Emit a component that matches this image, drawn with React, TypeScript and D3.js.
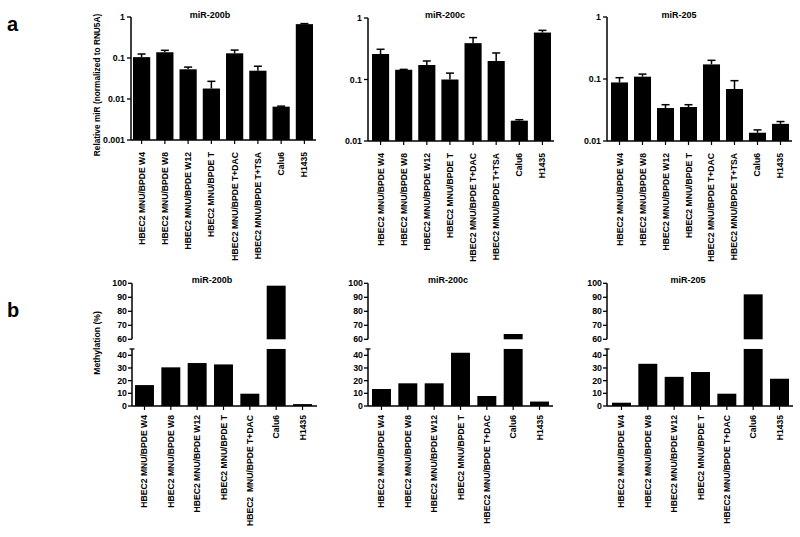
import React from "react";
import * as d3 from "d3";

// ---------- DATA ----------
const topCategories = [
  "HBEC2 MNU/BPDE W4",
  "HBEC2 MNU/BPDE W8",
  "HBEC2 MNU/BPDE W12",
  "HBEC2 MNU/BPDE T",
  "HBEC2 MNU/BPDE T+DAC",
  "HBEC2 MNU/BPDE T+TSA",
  "Calu6",
  "H1435",
];
const mir200bExpr = [0.105, 0.138, 0.053, 0.018, 0.13, 0.049, 0.0065, 0.67];
const mir200bErr = [0.02, 0.016, 0.007, 0.009, 0.026, 0.014, 0.0002, 0.02];
const mir200cExpr = [0.26, 0.144, 0.172, 0.1, 0.39, 0.2, 0.0214, 0.58];
const mir200cErr = [0.05, 0.002, 0.028, 0.027, 0.09, 0.07, 0.0008, 0.05];
const mir205Expr = [0.088, 0.109, 0.034, 0.0353, 0.172, 0.069, 0.0136, 0.0189];
const mir205Err = [0.017, 0.011, 0.0045, 0.0032, 0.028, 0.025, 0.0015, 0.0017];

const logTicks3 = [0.001, 0.01, 0.1, 1];
const logTickLabels3 = ["0.001", "0.01", "0.1", "1"];
const logTicks2 = [0.01, 0.1, 1];
const logTickLabels2 = ["0.01", "0.1", "1"];

const bottomCategories200b = [
  "HBEC2 MNU/BPDE W4",
  "HBEC2 MNU/BPDE W8",
  "HBEC2 MNU/BPDE W12",
  "HBEC2 MNU/BPDE T",
  "HBEC2  MNU/BPDE T+DAC",
  "Calu6",
  "H1435",
];
const bottomCategories = [
  "HBEC2 MNU/BPDE W4",
  "HBEC2 MNU/BPDE W8",
  "HBEC2 MNU/BPDE W12",
  "HBEC2 MNU/BPDE T",
  "HBEC2 MNU/BPDE T+DAC",
  "Calu6",
  "H1435",
];
const mir200bMeth = [16.5, 30.5, 33.9, 32.8, 9.7, 98.3, 1.5];
const mir200cMeth = [13.4, 17.9, 17.9, 42, 7.9, 63.8, 3.5];
const mir205Meth = [2.6, 33.3, 23, 26.8, 9.7, 92.1, 21.5];

const lowerTicks = [0, 10, 20, 30, 40];
const upperTicks = [60, 70, 80, 90, 100];

// ---------- STYLE ----------
const FONT = "'Liberation Sans', Arial, sans-serif";

type TopProps = {
  axisX: number;
  barX0: number;
  barX1: number;
  lineEnd: number;
  yTop: number;
  yBot: number;
  dMin: number;
  title: string;
  titleX: number;
  cats: string[];
  values: number[];
  errs: number[];
  ticks: number[];
  tickLabels: string[];
};

function TopPanel(p: TopProps) {
  const x = d3.scaleBand<string>().domain(p.cats).range([p.barX0, p.barX1]).paddingInner(0.26).paddingOuter(0);
  const y = d3.scaleLog().domain([p.dMin, 1]).range([p.yBot, p.yTop]);
  const bw = x.bandwidth();
  return (
    <g>
      <text x={p.titleX} y={18} textAnchor="middle" fontSize={9} fontWeight="bold" fontFamily={FONT}>
        {p.title}
      </text>
      {p.cats.map((c, i) => {
        const v = p.values[i];
        const e = p.errs[i];
        const cx = (x(c) as number) + bw / 2;
        return (
          <g key={c}>
            <line x1={cx} x2={cx} y1={y(v)} y2={y(v + e)} stroke="#000" strokeWidth={1.5} />
            <line x1={cx - 4} x2={cx + 4} y1={y(v + e)} y2={y(v + e)} stroke="#000" strokeWidth={1.5} />
            <rect x={x(c)} y={y(v)} width={bw} height={p.yBot - y(v)} fill="#000" />
            <line x1={cx} x2={cx} y1={p.yBot} y2={p.yBot + 4} stroke="#000" strokeWidth={1.2} />
            <text
              transform={`translate(${cx + 3},${p.yBot + 12}) rotate(-90)`}
              textAnchor="end"
              fontSize={8.6}
              fontWeight="bold"
              fontFamily={FONT}
              style={{ whiteSpace: "pre" }}
            >
              {c}
            </text>
          </g>
        );
      })}
      <line x1={p.axisX} x2={p.axisX} y1={p.yTop} y2={p.yBot} stroke="#000" strokeWidth={1.5} />
      <line x1={p.axisX} x2={p.lineEnd} y1={p.yBot} y2={p.yBot} stroke="#000" strokeWidth={1.5} />
      {p.ticks.map((t, i) => (
        <g key={t}>
          <line x1={p.axisX - 4} x2={p.axisX} y1={y(t)} y2={y(t)} stroke="#000" strokeWidth={1.3} />
          <text x={p.axisX - 6} y={y(t)} dy="0.35em" textAnchor="end" fontSize={8.8} fontWeight="bold" fontFamily={FONT}>
            {p.tickLabels[i]}
          </text>
        </g>
      ))}
    </g>
  );
}

type BotProps = {
  axisX: number;
  barX0: number;
  barX1: number;
  lineEnd: number;
  title: string;
  titleX: number;
  cats: string[];
  values: number[];
};

const Y0 = 406;
const LOWER_TOP = 45;
const yLower = d3.scaleLinear().domain([0, 40]).range([Y0, 355.3]);
const yUpper = d3.scaleLinear().domain([60, 100]).range([339.3, 283.3]);

function BottomPanel(p: BotProps) {
  const x = d3.scaleBand<string>().domain(p.cats).range([p.barX0, p.barX1]).paddingInner(0.28).paddingOuter(0);
  const bw = x.bandwidth();
  const capY = yLower(LOWER_TOP);
  return (
    <g>
      <text x={p.titleX} y={283} textAnchor="middle" fontSize={9} fontWeight="bold" fontFamily={FONT}>
        {p.title}
      </text>
      {p.cats.map((c, i) => {
        const v = p.values[i];
        const bx = x(c) as number;
        const cx = bx + bw / 2;
        const lowTop = yLower(Math.min(v, LOWER_TOP));
        return (
          <g key={c}>
            <rect x={bx} y={lowTop} width={bw} height={Y0 - lowTop} fill="#000" />
            {v > 60 && <rect x={bx} y={yUpper(v)} width={bw} height={yUpper(60) - yUpper(v)} fill="#000" />}
            <line x1={cx} x2={cx} y1={Y0} y2={Y0 + 4} stroke="#000" strokeWidth={1.2} />
            <text
              transform={`translate(${cx + 3},${Y0 + 9}) rotate(-90)`}
              textAnchor="end"
              fontSize={8.6}
              fontWeight="bold"
              fontFamily={FONT}
              style={{ whiteSpace: "pre" }}
            >
              {c}
            </text>
          </g>
        );
      })}
      <line x1={p.axisX} x2={p.axisX} y1={capY} y2={Y0} stroke="#000" strokeWidth={1.5} />
      <line x1={p.axisX - 2.5} x2={p.axisX + 2.5} y1={capY} y2={capY} stroke="#000" strokeWidth={1.3} />
      <line x1={p.axisX} x2={p.axisX} y1={yUpper(100)} y2={yUpper(60)} stroke="#000" strokeWidth={1.5} />
      <line x1={p.axisX} x2={p.lineEnd} y1={Y0} y2={Y0} stroke="#000" strokeWidth={1.5} />
      {lowerTicks.map((t) => (
        <g key={"l" + t}>
          <line x1={p.axisX - 4} x2={p.axisX} y1={yLower(t)} y2={yLower(t)} stroke="#000" strokeWidth={1.3} />
          <text x={p.axisX - 5} y={yLower(t)} dy="0.35em" textAnchor="end" fontSize={8.8} fontWeight="bold" fontFamily={FONT}>
            {t}
          </text>
        </g>
      ))}
      {upperTicks.map((t) => (
        <g key={"u" + t}>
          <line x1={p.axisX - 4} x2={p.axisX} y1={yUpper(t)} y2={yUpper(t)} stroke="#000" strokeWidth={1.3} />
          <text x={p.axisX - 5} y={yUpper(t)} dy="0.35em" textAnchor="end" fontSize={8.8} fontWeight="bold" fontFamily={FONT}>
            {t}
          </text>
        </g>
      ))}
    </g>
  );
}

export default function App() {
  return (
    <svg
      width={800}
      height={537}
      viewBox="0 0 800 537"
      style={{ position: "absolute", left: 0, top: 0, background: "#fff" }}
    >
      <rect x={0} y={0} width={800} height={537} fill="#fff" />
      <text x={7} y={31} fontSize={20} fontWeight="bold" fontFamily={FONT}>a</text>
      <text x={7} y={317} fontSize={20} fontWeight="bold" fontFamily={FONT}>b</text>
      <text
        transform="translate(100,85) rotate(-90)"
        textAnchor="middle"
        fontSize={8.3}
        fontWeight="bold"
        fontFamily={FONT}
      >
        Relative miR (normalized to RNU5A)
      </text>
      <text
        transform="translate(100,343) rotate(-90)"
        textAnchor="middle"
        fontSize={8.6}
        fontWeight="bold"
        fontFamily={FONT}
      >
        Methylation (%)
      </text>

      <TopPanel axisX={131} barX0={133} barX1={313} lineEnd={316} yTop={17} yBot={140} dMin={0.001}
        title="miR-200b" titleX={210} cats={topCategories} values={mir200bExpr} errs={mir200bErr}
        ticks={logTicks3} tickLabels={logTickLabels3} />
      <TopPanel axisX={368} barX0={372} barX1={551} lineEnd={554} yTop={18} yBot={141} dMin={0.01}
        title="miR-200c" titleX={445} cats={topCategories} values={mir200cExpr} errs={mir200cErr}
        ticks={logTicks2} tickLabels={logTickLabels2} />
      <TopPanel axisX={607} barX0={611} barX1={789} lineEnd={792} yTop={17} yBot={141} dMin={0.01}
        title="miR-205" titleX={679} cats={topCategories} values={mir205Expr} errs={mir205Err}
        ticks={logTicks2} tickLabels={logTickLabels2} />

      <BottomPanel axisX={132} barX0={135} barX1={312} lineEnd={317} title="miR-200b" titleX={212}
        cats={bottomCategories200b} values={mir200bMeth} />
      <BottomPanel axisX={368} barX0={372} barX1={549} lineEnd={553} title="miR-200c" titleX={448}
        cats={bottomCategories} values={mir200cMeth} />
      <BottomPanel axisX={607} barX0={612} barX1={789} lineEnd={793} title="miR-205" titleX={688}
        cats={bottomCategories} values={mir205Meth} />
    </svg>
  );
}
